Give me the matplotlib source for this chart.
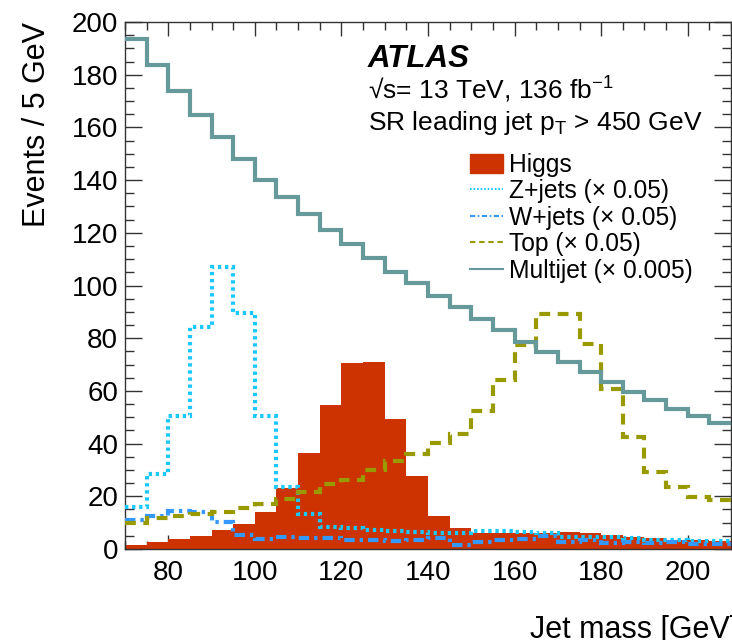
"""Jet mass distribution in the signal region, Higgs vs. scaled backgrounds."""

import matplotlib

matplotlib.use("Agg")
import matplotlib.pyplot as plt
import numpy as np
from matplotlib.lines import Line2D
from matplotlib.patches import Patch
from matplotlib.ticker import MultipleLocator

plt.rcParams["font.family"] = ["Liberation Sans", "DejaVu Sans"]
plt.rcParams["mathtext.fontset"] = "custom"
plt.rcParams["mathtext.rm"] = "Liberation Sans"
plt.rcParams["mathtext.it"] = "Liberation Sans:italic"

# 5 GeV bins from 70 to 210 GeV
bin_edges = np.arange(70, 215, 5)

higgs = [1.5, 2.5, 3.8, 5.0, 7.4, 9.5, 14.1, 23.0, 36.6, 54.8, 70.7, 71.1, 49.5, 27.8,
         12.6, 7.8, 5.9, 5.9, 6.0, 6.0, 6.3, 5.9, 5.3, 4.7, 4.0, 3.6, 3.4, 3.2]
zjets = [16.0, 28.3, 50.5, 84.2, 106.9, 89.4, 50.5, 23.4, 13.1, 8.4, 7.8, 7.2, 6.8, 6.6,
         6.2, 5.9, 6.9, 6.9, 6.6, 6.2, 4.7, 4.7, 4.4, 4.0, 3.6, 3.4, 3.2, 3.0]
wjets = [11.0, 12.5, 14.4, 13.9, 10.3, 5.2, 3.8, 4.7, 4.0, 4.0, 3.4, 3.4, 3.2, 3.4,
         4.0, 1.5, 2.8, 3.4, 3.8, 5.0, 2.8, 3.4, 2.4, 2.8, 2.4, 2.8, 2.0, 2.0]
top = [9.7, 11.6, 12.5, 13.1, 14.1, 15.4, 16.9, 18.8, 21.7, 24.6, 26.1, 29.9, 33.3, 36.0,
       40.4, 43.8, 52.3, 64.0, 77.5, 89.3, 89.0, 77.9, 60.9, 42.5, 29.3, 23.6, 19.6, 18.6]
multijet = [193.4, 183.6, 173.9, 164.6, 156.2, 148.0, 140.2, 133.4, 127.2, 121.1, 115.8,
            110.3, 105.3, 101.0, 96.2, 91.8, 87.4, 83.2, 78.5, 74.7, 70.9, 67.2, 63.4,
            59.6, 56.4, 53.3, 50.4, 47.8]

labels = ["Higgs", "Z+jets (× 0.05)", "W+jets (× 0.05)", "Top (× 0.05)",
          "Multijet (× 0.005)"]

c_higgs = "#cc3300"
c_z = "#1ac8ff"
c_w = "#3399ff"
c_top = "#999900"
c_mj = "#669999"

z_style = (0, (0.8, 0.9))
w_style = (0, (2.5, 1.2, 0.8, 1.2))
top_style = (0, (2.6, 1.8))

fig = plt.figure(figsize=(7.32, 6.4), dpi=100)
ax = fig.add_axes([125 / 732, 1 - 549 / 640, 606 / 732, 527 / 640])

ax.stairs(higgs, bin_edges, fill=True, color=c_higgs, zorder=2)
ax.stairs(zjets, bin_edges, baseline=None, color=c_z, lw=3, linestyle=z_style, zorder=3)
ax.stairs(wjets, bin_edges, baseline=None, color=c_w, lw=3, linestyle=w_style, zorder=3)
ax.stairs(top, bin_edges, baseline=None, color=c_top, lw=3, linestyle=top_style, zorder=3)
ax.stairs(multijet, bin_edges, baseline=None, color=c_mj, lw=3, zorder=4)

ax.set_xlim(70, 210)
ax.set_ylim(0, 200)
ax.xaxis.set_major_locator(MultipleLocator(20))
ax.xaxis.set_minor_locator(MultipleLocator(5))
ax.yaxis.set_major_locator(MultipleLocator(20))
ax.yaxis.set_minor_locator(MultipleLocator(5))
ax.tick_params(which="both", direction="in", top=True, right=True, labelsize=20,
               width=1.0, color="#333333")
ax.tick_params(axis="x", which="major", length=10, pad=8)
ax.tick_params(axis="x", which="minor", length=5.5)
ax.tick_params(axis="y", which="major", length=12, pad=5)
ax.tick_params(axis="y", which="minor", length=6.5)
for spine in ax.spines.values():
    spine.set_linewidth(1.0)
    spine.set_color("#333333")

ax.set_ylabel("Events / 5 GeV", fontsize=22, loc="top")
ax.yaxis.set_label_coords(-0.12, 1.0)
ax.set_xlabel("Jet mass [GeV]", fontsize=22, loc="right")
ax.xaxis.set_label_coords(1.012, -0.125)

ax.text(0.401, 0.914, "ATLAS", transform=ax.transAxes, fontsize=22.5,
        fontweight="bold", fontstyle="italic")
ax.text(0.401, 0.853, "√s= 13 TeV, 136 fb$^{-1}$", transform=ax.transAxes,
        fontsize=19)
ax.text(0.401, 0.795, r"SR leading jet p$_{\mathrm{T}}$ > 450 GeV",
        transform=ax.transAxes, fontsize=19)

handles = [
    Patch(facecolor=c_higgs, edgecolor=c_higgs),
    Line2D([], [], color=c_z, lw=1.5, linestyle=z_style),
    Line2D([], [], color=c_w, lw=1.5, linestyle=w_style),
    Line2D([], [], color=c_top, lw=1.5, linestyle=top_style),
    Line2D([], [], color=c_mj, lw=1.5),
]
ax.legend(handles, labels, loc="upper left", bbox_to_anchor=(470 / 732, 1 - 153 / 640),
          bbox_transform=fig.transFigure, frameon=False, fontsize=17.7,
          handlelength=1.35, handleheight=0.8, handletextpad=0.22,
          labelspacing=0.1, borderpad=0, borderaxespad=0)

fig.savefig("out.png", dpi=100)
